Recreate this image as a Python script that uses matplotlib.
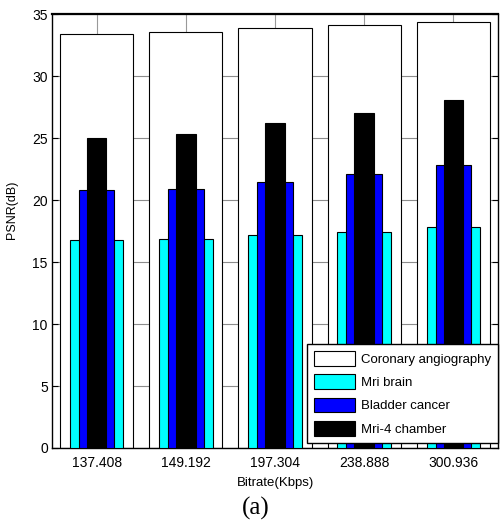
import matplotlib.pyplot as plt
import numpy as np

plt.rcParams['font.family'] = ['Liberation Sans', 'DejaVu Sans']

bitrates = ['137.408', '149.192', '197.304', '238.888', '300.936']
coronary = [33.4, 33.55, 33.85, 34.1, 34.35]
mri_brain = [16.77, 16.88, 17.18, 17.39, 17.8]
bladder = [20.78, 20.9, 21.48, 22.12, 22.85]
mri4 = [24.97, 25.3, 26.2, 27.04, 28.06]
coronary_err = [3.0, 3.0, 3.0, 3.0, 3.0]

x = np.arange(1, len(bitrates) + 1)

fig = plt.figure(figsize=(5.0, 5.26), dpi=100)
ax = fig.add_axes([0.104, 0.1483, 0.892, 0.825])

ax.set_axisbelow(True)
ax.yaxis.grid(True, color='0.55', lw=0.8)

ax.bar(x, coronary, width=0.82, color='white', edgecolor='black', lw=0.8,
       label='Coronary angiography', zorder=2)
ax.errorbar(x, coronary, yerr=[np.zeros(len(x)), coronary_err], fmt='none',
            ecolor='0.6', elinewidth=0.8, zorder=1.5)
ax.bar(x, mri_brain, width=0.6, color='cyan', edgecolor='black', lw=0.8,
       label='Mri brain', zorder=3)
ax.bar(x, bladder, width=0.4, color='blue', edgecolor='black', lw=0.8,
       label='Bladder cancer', zorder=4)
ax.bar(x, mri4, width=0.22, color='black', edgecolor='black', lw=0.8,
       label='Mri-4 chamber', zorder=5)

ax.set_xlim(0.5, 5.5)
ax.set_ylim(0, 35)
ax.set_xticks(x)
ax.set_xticklabels(bitrates, fontsize=10)
ax.set_yticks(np.arange(0, 36, 5))
ax.tick_params(axis='y', labelsize=10, direction='in', length=4, right=True, pad=3)
ax.tick_params(axis='x', direction='in', length=0, pad=6)
for s in ax.spines.values():
    s.set_linewidth(1.0)
ax.spines['top'].set_linewidth(1.6)

ax.set_xlabel('Bitrate(Kbps)', fontsize=9.5, labelpad=5)
ax.set_ylabel('PSNR(dB)', fontsize=9)
ax.yaxis.set_label_coords(-0.076, 0.55)

leg = ax.legend(loc='lower right', bbox_to_anchor=(1.0, 0.0115), fontsize=9.5,
                frameon=True, fancybox=False, edgecolor='black', framealpha=1,
                borderaxespad=0, handlelength=3.1, handleheight=1.3,
                labelspacing=0.66, borderpad=0.55, handletextpad=0.4)
leg.get_frame().set_linewidth(1.0)
leg.set_zorder(10)

fig.text(0.512, 0.034, '(a)', fontsize=18, family='Liberation Serif',
         ha='center', va='center')

fig.savefig('out.png', dpi=100)
